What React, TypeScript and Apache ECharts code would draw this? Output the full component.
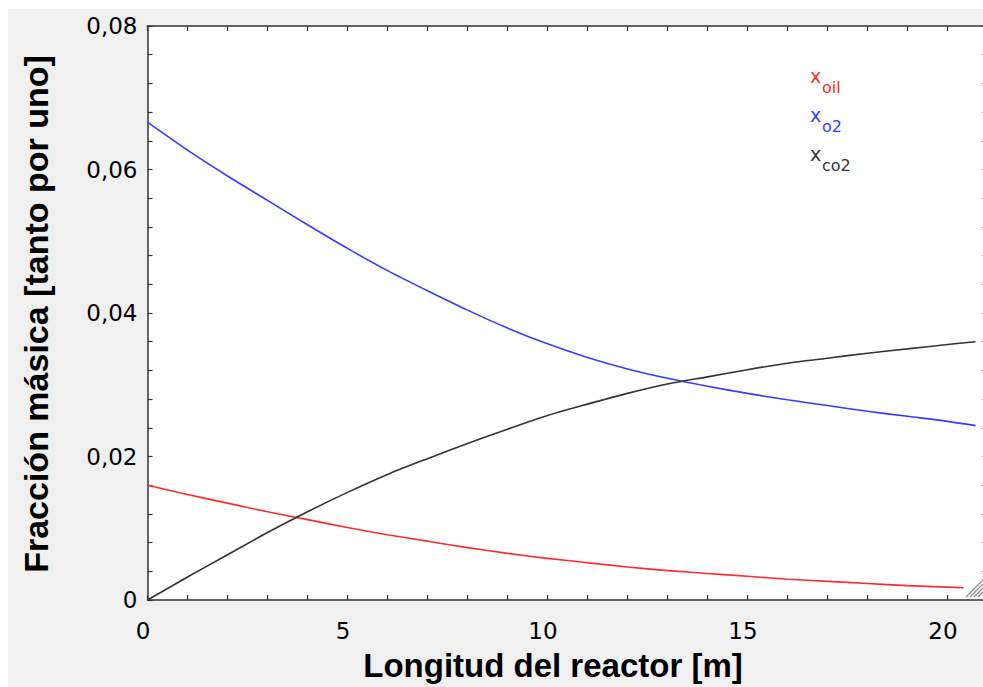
import React, { useEffect, useRef } from "react";
import * as echarts from "echarts";

// Position along the reactor [m]
const xCommon = [0, 1, 2, 3, 4, 5, 6, 7, 8, 9, 10, 11, 12, 13, 14, 15, 16, 17, 18, 19, 20];
const xOilEnd = 20.4;
const xGasEnd = 20.7;

// Mass fractions
const xOil = [0.016, 0.0147, 0.0135, 0.0123, 0.0112, 0.0101, 0.0091, 0.0082, 0.0073, 0.0065, 0.0058, 0.0052, 0.0046, 0.0041, 0.0037, 0.0033, 0.0029, 0.0026, 0.0023, 0.002, 0.0018, 0.0017];
const xO2 = [0.0666, 0.0627, 0.0591, 0.0557, 0.0523, 0.049, 0.0459, 0.0431, 0.0404, 0.0379, 0.0357, 0.0338, 0.0322, 0.0309, 0.0298, 0.0288, 0.0279, 0.0271, 0.0263, 0.0256, 0.0249, 0.0243];
const xCo2 = [0, 0.0032, 0.0063, 0.0094, 0.0123, 0.015, 0.0175, 0.0197, 0.0218, 0.0238, 0.0257, 0.0273, 0.0288, 0.0301, 0.0311, 0.0321, 0.033, 0.0337, 0.0344, 0.035, 0.0356, 0.036];

const xTickLabels = ["0", "5", "10", "15", "20"];
const yTickLabels = ["0", "0,02", "0,04", "0,06", "0,08"];

const seriesNames = ["x_oil", "x_o2", "x_co2"];
const legendSubs = ["oil", "o2", "co2"];
const colors = ["#ff2a2a", "#3a3aff", "#333333"];

const OX = 8;
const OY = 9;
const CHART_W = 990;
const CHART_H = 687 - OY;

export default function App() {
  const ref = useRef<HTMLDivElement>(null);
  useEffect(() => {
    if (!ref.current) return;
    const chart = echarts.init(ref.current, null, { renderer: "svg" });
    const pairs = (xs: number[], end: number, ys: number[]) =>
      [...xs, end].map((x, i) => [x, ys[i]]);
    const lineAxis = () => ({ show: true, onZero: false, lineStyle: { color: "#333", width: 1.5 } });
    const tick = () => ({ show: true, inside: true, length: 5, lineStyle: { color: "#333", width: 1.2 } });
    const legendBase = [85, 124, 163];
    const legendEls: any[] = [];
    legendSubs.forEach((s, i) => {
      legendEls.push({
        type: "text",
        x: 810 - OX,
        y: legendBase[i] - OY,
        style: { text: "x", fill: colors[i], fontSize: 19, fontFamily: "DejaVu Sans", textAlign: "left", textVerticalAlign: "bottom" },
      });
      legendEls.push({
        type: "text",
        x: 822 - OX,
        y: legendBase[i] + 10 - OY,
        style: { text: s, fill: colors[i], fontSize: 16, fontFamily: "DejaVu Sans", textAlign: "left", textVerticalAlign: "bottom" },
      });
    });
    const grip: any[] = [0, 1, 2, 3].map((i) => ({
      type: "line",
      shape: { x1: 966 + 4 * i - OX, y1: 597 - OY, x2: 983 - OX, y2: 580 + 4 * i - OY },
      style: { stroke: "#888", lineWidth: 1.2 },
      z: 100,
    }));
    const fmtX = (v: number) => {
      const k = Math.round(v);
      return k % 5 === 0 ? xTickLabels[k / 5] ?? "" : "";
    };
    const fmtY = (v: number) => {
      const k = Math.round(v / 0.004);
      return k % 5 === 0 ? yTickLabels[k / 5] ?? "" : "";
    };
    chart.setOption({
      animation: false,
      backgroundColor: "#f0f0f0",
      grid: {
        left: 147.5 - OX,
        top: 26 - OY,
        right: CHART_W - (987.5 - OX),
        bottom: 87,
        show: true,
        backgroundColor: "#ffffff",
        borderWidth: 0,
        containLabel: false,
        outerBoundsMode: "none",
      },
      xAxis: [
        {
          type: "value",
          min: 0,
          max: 21,
          interval: 1,
          position: "bottom",
          axisLine: lineAxis(),
          axisTick: tick(),
          splitLine: { show: false },
          axisLabel: { margin: 19, color: "#000", fontSize: 23, fontFamily: "DejaVu Sans", padding: [0, 9, 0, 0], formatter: fmtX },
        },
        {
          type: "value",
          min: 0,
          max: 21,
          interval: 1,
          position: "top",
          axisLine: lineAxis(),
          axisTick: tick(),
          splitLine: { show: false },
          axisLabel: { show: false },
        },
      ],
      yAxis: [
        {
          type: "value",
          min: 0,
          max: 0.08,
          interval: 0.004,
          position: "left",
          axisLine: lineAxis(),
          axisTick: tick(),
          splitLine: { show: false },
          axisLabel: { margin: 10, color: "#000", fontSize: 23, fontFamily: "DejaVu Sans", formatter: fmtY },
        },
        {
          type: "value",
          min: 0,
          max: 0.08,
          interval: 0.004,
          position: "right",
          axisLine: lineAxis(),
          axisTick: tick(),
          splitLine: { show: false },
          axisLabel: { show: false },
        },
      ],
      series: [
        {
          name: seriesNames[0],
          type: "line",
          data: pairs(xCommon, xOilEnd, xOil),
          showSymbol: false,
          lineStyle: { color: colors[0], width: 1.6 },
          smooth: 0.3,
        },
        {
          name: seriesNames[1],
          type: "line",
          data: pairs(xCommon, xGasEnd, xO2),
          showSymbol: false,
          lineStyle: { color: colors[1], width: 1.6 },
          smooth: 0.3,
        },
        {
          name: seriesNames[2],
          type: "line",
          data: pairs(xCommon, xGasEnd, xCo2),
          showSymbol: false,
          lineStyle: { color: colors[2], width: 1.6 },
          smooth: 0.3,
        },
      ],
      graphic: [
        {
          type: "text",
          x: 553 - OX,
          y: 665.5 - OY,
          style: {
            text: "Longitud del reactor [m]",
            fill: "#000",
            fontSize: 33,
            fontWeight: "bold",
            fontFamily: "Liberation Sans",
            textAlign: "center",
            textVerticalAlign: "middle",
          },
        },
        {
          type: "text",
          x: 35.5 - OX,
          y: 314 - OY,
          rotation: Math.PI / 2,
          style: {
            text: "Fracción másica [tanto por uno]",
            fill: "#000",
            fontSize: 34,
            fontWeight: "bold",
            fontFamily: "Liberation Sans",
            textAlign: "center",
            textVerticalAlign: "middle",
          },
        },
        ...legendEls,
        ...grip,
      ],
    });
    return () => chart.dispose();
  }, []);
  return (
    <div
      style={{
        position: "absolute",
        left: OX,
        top: OY,
        width: 983 - OX,
        height: CHART_H,
        overflow: "hidden",
      }}
    >
      <div ref={ref} style={{ width: CHART_W, height: CHART_H }} />
    </div>
  );
}
